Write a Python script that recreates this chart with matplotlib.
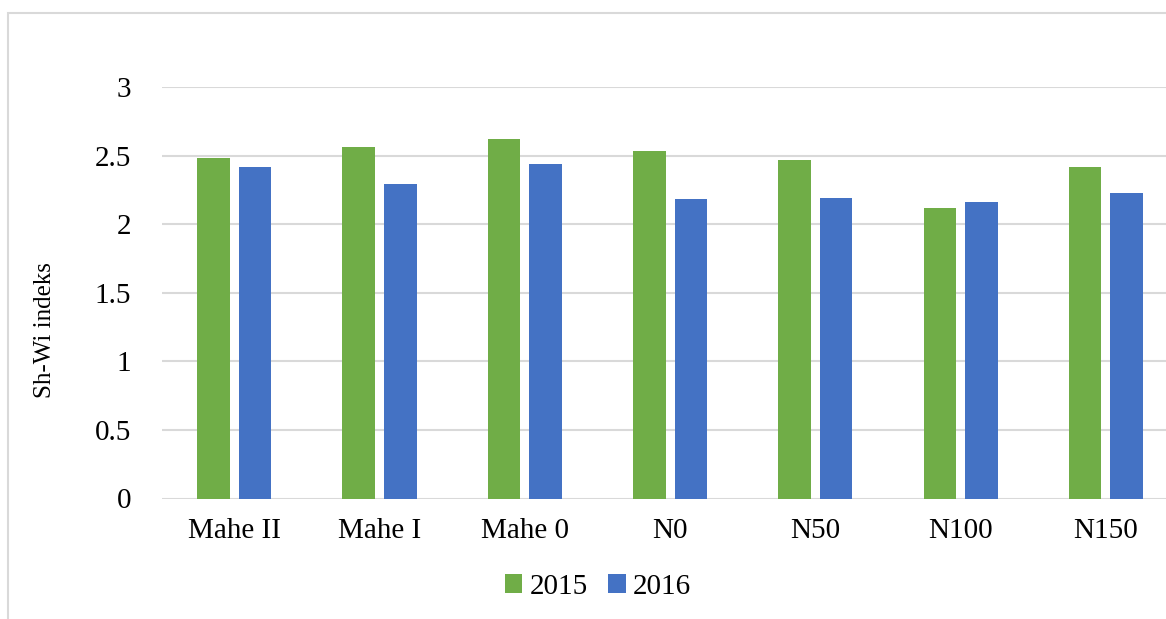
import matplotlib.pyplot as plt
import numpy as np
from matplotlib.patches import Rectangle

categories = ["Mahe II", "Mahe I", "Mahe 0", "N0", "N50", "N100", "N150"]
values_2015 = [2.48, 2.56, 2.62, 2.53, 2.47, 2.12, 2.42]
values_2016 = [2.42, 2.29, 2.44, 2.18, 2.19, 2.16, 2.23]
yticks = [0, 0.5, 1, 1.5, 2, 2.5, 3]
ytick_labels = ["0", "0.5", "1", "1.5", "2", "2.5", "3"]

plt.rcParams['font.family'] = ['Liberation Serif', 'DejaVu Serif']

W, H = 1166, 619
fig = plt.figure(figsize=(W / 100, H / 100), dpi=100)

# chart border (cropped on right and bottom in the reference)
fig.patches.append(Rectangle((8 / W, -0.1), 1.2, 1 - 13 / H + 0.1, transform=fig.transFigure,
                             fill=False, edgecolor='#d9d9d9', linewidth=1.5))

ax = fig.add_axes([161.5 / W, (H - 498.5) / H, (W - 161.5) / W, (498.5 - 87) / H])

x = np.arange(len(categories))
width = 0.224
off = 0.143
ax.bar(x - off, values_2015, width, color='#70AD47', label='2015', zorder=3)
ax.bar(x + off, values_2016, width, color='#4472C4', label='2016', zorder=3)

ax.set_ylim(0, 3)
ax.set_xlim(-0.5, (W - 161.5) / 145.3 - 0.5)
ax.set_yticks(yticks)
ax.set_yticklabels(ytick_labels)
ax.set_xticks(x)
ax.set_xticklabels(categories)
ax.tick_params(axis='both', length=0, labelsize=21)
ax.tick_params(axis='y', pad=22)
ax.tick_params(axis='x', pad=14)
ax.grid(axis='y', color='#d9d9d9', linewidth=1.5, zorder=0)
for s in ax.spines.values():
    s.set_visible(False)

fig.text(45 / W, 1 - 330 / H, "Sh-Wi indeks", rotation=90, ha='center', va='center', fontsize=18)

fig.legend(loc='center', bbox_to_anchor=(598 / W, 1 - 587 / H), ncol=2, frameon=False,
           fontsize=21, handlelength=0.6, handleheight=0.6, handletextpad=0.25, columnspacing=0.7)

fig.savefig('out.png', dpi=100)
